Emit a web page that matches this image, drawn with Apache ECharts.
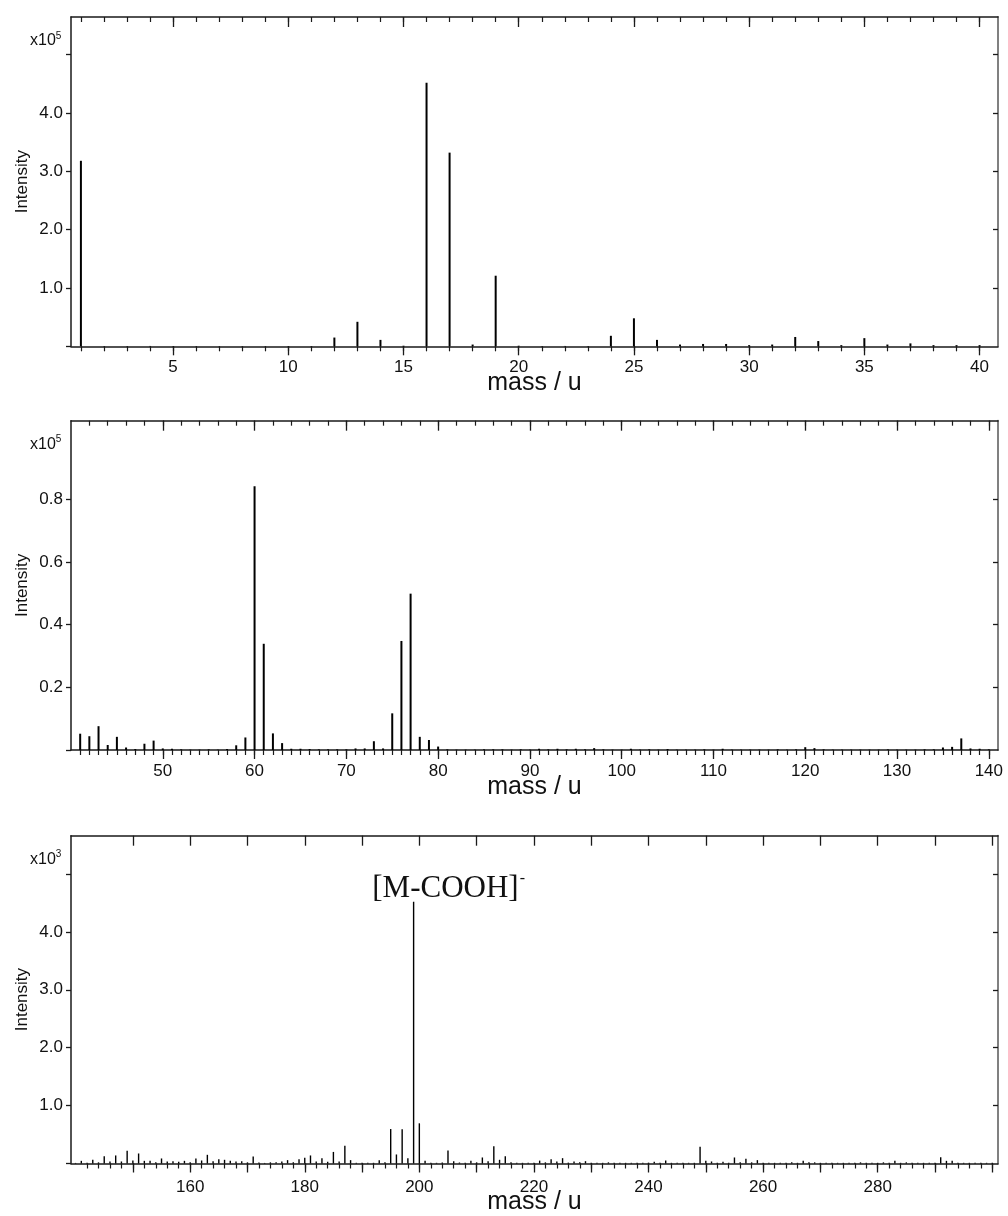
<!DOCTYPE html>
<html><head><meta charset="utf-8">
<script src="https://cdn.jsdelivr.net/npm/echarts@6/dist/echarts.min.js"></script>
<style>html,body{margin:0;padding:0;background:#fff}#c{width:1008px;height:1216px}</style>
</head><body><div id="c"></div>
<script>
// ---------- Panel 1: mass 1-40, intensity in units of 1e5 ----------
const masses1 = [1,2,3,4,5,6,7,8,9,10,11,12,13,14,15,16,17,18,19,20,21,22,23,24,25,26,27,28,29,30,31,32,33,34,35,36,37,38,39,40];
const intens1 = [3.18,0.004,0.004,0.006,0.004,0.004,0.003,0.003,0.003,0.004,0.005,0.15,0.42,0.11,0.01,4.52,3.32,0.03,1.21,0.01,0.005,0.006,0.005,0.18,0.48,0.11,0.03,0.04,0.04,0.02,0.03,0.16,0.09,0.02,0.14,0.03,0.05,0.02,0.02,0.02];

// ---------- Panel 2: mass 41-140, intensity in units of 1e5 ----------
const masses2 = [41,42,43,44,45,46,47,48,49,50,51,52,53,54,55,56,57,58,59,60,61,62,63,64,65,66,67,68,69,70,71,72,73,74,75,76,77,78,79,80,81,82,83,84,85,86,87,88,89,90,91,92,93,94,95,96,97,98,99,100,101,102,103,104,105,106,107,108,109,110,111,112,113,114,115,116,117,118,119,120,121,122,123,124,125,126,127,128,129,130,131,132,133,134,135,136,137,138,139,140];
const intens2 = [0.052,0.044,0.076,0.016,0.042,0.008,0.003,0.020,0.030,0.005,0.004,0.002,0.001,0.001,0.002,0.001,0.003,0.015,0.040,0.842,0.339,0.053,0.022,0.004,0.004,0.003,0.002,0.002,0.002,0.002,0.005,0.005,0.028,0.005,0.117,0.348,0.499,0.042,0.032,0.011,0.002,0.001,0.001,0.001,0.002,0.002,0.002,0.001,0.002,0.001,0.004,0.002,0.004,0.002,0.004,0.002,0.006,0.002,0.001,0.001,0.004,0.001,0.002,0.001,0.003,0.001,0.001,0.001,0.002,0.001,0.004,0.001,0.001,0.001,0.001,0.001,0.002,0.001,0.002,0.009,0.006,0.002,0.001,0.001,0.001,0.001,0.001,0.001,0.002,0.001,0.001,0.001,0.002,0.002,0.008,0.010,0.037,0.005,0.004,0.002];

// ---------- Panel 3: mass 140-300, intensity in units of 1e3 ----------
const masses3 = [140,141,142,143,144,145,146,147,148,149,150,151,152,153,154,155,156,157,158,159,160,161,162,163,164,165,166,167,168,169,170,171,172,173,174,175,176,177,178,179,180,181,182,183,184,185,186,187,188,189,190,191,192,193,194,195,196,197,198,199,200,201,202,203,204,205,206,207,208,209,210,211,212,213,214,215,216,217,218,219,220,221,222,223,224,225,226,227,228,229,230,231,232,233,234,235,236,237,238,239,240,241,242,243,244,245,246,247,248,249,250,251,252,253,254,255,256,257,258,259,260,261,262,263,264,265,266,267,268,269,270,271,272,273,274,275,276,277,278,279,280,281,282,283,284,285,286,287,288,289,290,291,292,293,294,295,296,297,298,299,300];
const intens3 = [0.010,0.046,0.015,0.064,0.020,0.127,0.035,0.139,0.035,0.220,0.050,0.173,0.046,0.046,0.020,0.087,0.035,0.040,0.030,0.046,0.020,0.087,0.052,0.150,0.040,0.075,0.064,0.046,0.035,0.040,0.020,0.120,0.017,0.010,0.020,0.020,0.035,0.058,0.020,0.075,0.098,0.139,0.035,0.092,0.030,0.200,0.035,0.306,0.058,0.012,0.012,0.012,0.012,0.058,0.020,0.595,0.156,0.590,0.092,4.520,0.694,0.046,0.012,0.012,0.017,0.225,0.040,0.017,0.012,0.046,0.020,0.104,0.040,0.300,0.064,0.127,0.020,0.012,0.012,0.012,0.012,0.050,0.020,0.075,0.035,0.092,0.015,0.035,0.020,0.040,0.012,0.012,0.012,0.020,0.012,0.012,0.012,0.012,0.012,0.012,0.015,0.030,0.012,0.052,0.012,0.012,0.012,0.012,0.012,0.289,0.046,0.035,0.012,0.030,0.012,0.104,0.020,0.081,0.020,0.058,0.012,0.012,0.012,0.012,0.012,0.020,0.012,0.046,0.020,0.020,0.012,0.012,0.012,0.012,0.012,0.012,0.012,0.020,0.012,0.012,0.012,0.020,0.012,0.046,0.012,0.020,0.012,0.012,0.012,0.012,0.012,0.110,0.046,0.046,0.012,0.012,0.012,0.012,0.012,0.012,0.012];

// ---------- Axis ticks / labels ----------
const xRange1 = [0.57, 40.8], xRange2 = [40, 141], xRange3 = [139.2, 301];
const yMax1 = 5.645, yMax2 = 1.051, yMax3 = 5.66;
const xLabels1 = [5,10,15,20,25,30,35,40];
const xLabels2 = [50,60,70,80,90,100,110,120,130,140];
const xLabels3 = [160,180,200,220,240,260,280];
const yTicks1 = [0,1,2,3,4,5], yLabels1 = [1,2,3,4];
const yTicks2 = [0,0.2,0.4,0.6,0.8], yLabels2 = [0.2,0.4,0.6,0.8];
const yTicks3 = [0,1,2,3,4,5], yLabels3 = [1,2,3,4];
const scaleText = ['5','5','3'];
const annotMass = 199, annotText = '[M-COOH]';

function range(a,b,s){const r=[];for(let v=a;v<=b+1e-9;v+=s)r.push(+v.toFixed(6));return r;}
const xMajor1 = range(5,40,5), xMinorBot1 = range(1,40,1), xMinorTop1 = range(1,40,1);
const xMajor2 = range(50,140,10), xMinorBot2 = range(41,140,1), xMinorTop2 = range(42,140,2);
const xMajor3 = range(150,300,10), xMinorBot3 = range(142,300,2), xMinorTop3 = [];

const FONT = 'Liberation Sans, Arial, sans-serif';
const DARK = '#1a1a1a', GREY = '#808080';

const panels = [
  {top:17, xr:xRange1, ymax:yMax1, xl:xLabels1, xM:xMajor1, xmb:xMinorBot1, xmt:xMinorTop1, yt:yTicks1, yl:yLabels1, m:masses1, v:intens1, bw:2, ng:37, lm:13},
  {top:420.7, xr:xRange2, ymax:yMax2, xl:xLabels2, xM:xMajor2, xmb:xMinorBot2, xmt:xMinorTop2, yt:yTicks2, yl:yLabels2, m:masses2, v:intens2, bw:2, ng:37, lm:13},
  {top:835.7, xr:xRange3, ymax:yMax3, xl:xLabels3, xM:xMajor3, xmb:xMinorBot3, xmt:xMinorTop3, yt:yTicks3, yl:yLabels3, m:masses3, v:intens3, bw:1.4, ng:39, lm:15}
];

const grid=[], xAxis=[], yAxis=[], series=[], graphic=[];
panels.forEach((p,i)=>{
  grid.push({left:71, right:10, top:p.top, height:329.3});
  const base = {type:'value', gridIndex:i, min:p.xr[0], max:p.xr[1], splitLine:{show:false}};
  xAxis.push(Object.assign({}, base, {position:'bottom',
    axisLine:{show:true, onZero:false, lineStyle:{color:DARK, width:1.5}},
    axisTick:{show:true, customValues:p.xM, length:9, inside:false, lineStyle:{color:DARK, width:1.3}},
    axisLabel:{show:true, customValues:p.xl, color:'#111', fontSize:17, fontFamily:FONT, margin:p.lm},
    name:'mass / u', nameLocation:'middle', nameGap:p.ng, nameMoveOverlap:false,
    nameTextStyle:{fontSize:25, fontFamily:FONT, color:'#111', verticalAlign:'middle'}}));
  xAxis.push(Object.assign({}, base, {position:'bottom',
    axisLine:{show:false, onZero:false},
    axisTick:{show:true, customValues:p.xmb, length:5, inside:false, lineStyle:{color:DARK, width:1.2}},
    axisLabel:{show:false}}));
  xAxis.push(Object.assign({}, base, {position:'top',
    axisLine:{show:true, onZero:false, lineStyle:{color:DARK, width:1.5}},
    axisTick:{show:true, customValues:p.xM, length:10, inside:true, lineStyle:{color:DARK, width:1.3}},
    axisLabel:{show:false}}));
  xAxis.push(Object.assign({}, base, {position:'top',
    axisLine:{show:false, onZero:false},
    axisTick:{show:p.xmt.length>0, customValues:p.xmt.length?p.xmt:[p.xr[0]-1], length:5, inside:true, lineStyle:{color:DARK, width:1.2}},
    axisLabel:{show:false}}));
  const ybase = {type:'value', gridIndex:i, min:0, max:p.ymax, splitLine:{show:false}};
  yAxis.push(Object.assign({}, ybase, {position:'left',
    axisLine:{show:true, onZero:false, lineStyle:{color:DARK, width:1.5}},
    axisTick:{show:true, customValues:p.yt, length:5, inside:false, lineStyle:{color:DARK, width:1.3}},
    axisLabel:{show:true, customValues:p.yl, formatter:(v)=>v.toFixed(1), color:'#111', fontSize:17, fontFamily:FONT, margin:8},
    name:'Intensity', nameLocation:'middle', nameGap:40, nameRotate:90, nameMoveOverlap:false,
    nameTextStyle:{fontSize:17, fontFamily:FONT, color:'#111'}}));
  yAxis.push(Object.assign({}, ybase, {position:'right',
    axisLine:{show:true, onZero:false, lineStyle:{color:GREY, width:2}},
    axisTick:{show:true, customValues:p.yt.filter(t=>t>0), length:5, inside:true, lineStyle:{color:DARK, width:1.3}},
    axisLabel:{show:false}}));
  const s = {type:'bar', xAxisIndex:4*i, yAxisIndex:2*i, barWidth:p.bw,
    itemStyle:{color:'#000'}, silent:true,
    data:p.m.map((mm,k)=>[mm, p.v[k]])};
  if(i===2){
    s.markPoint = {symbol:'circle', symbolSize:0,
      data:[{coord:[annotMass, intens3[masses3.indexOf(annotMass)]]}],
      label:{show:true, position:'top', distance:0, offset:[35,3],
        formatter:'{a|'+annotText+'}{s|-}',
        rich:{a:{fontFamily:'Liberation Serif, Times New Roman, serif', fontSize:31, color:'#111', lineHeight:34, verticalAlign:'bottom'},
              s:{fontFamily:'Liberation Serif, Times New Roman, serif', fontSize:16, color:'#111', lineHeight:34, verticalAlign:'top', padding:[0,0,0,1]}}}};
  }
  series.push(s);
  graphic.push({type:'text', left:30, top:p.top+14,
    style:{text:'{b|x10}{s|'+scaleText[i]+'}', rich:{b:{fontSize:16, fontFamily:FONT, fill:'#111', lineHeight:18, verticalAlign:'bottom'}, s:{fontSize:10, fontFamily:FONT, fill:'#111', lineHeight:18, verticalAlign:'top'}}}});
});

const chart = echarts.init(document.getElementById('c'), null, {renderer:'canvas'});
chart.setOption({animation:false, backgroundColor:'#fff', grid, xAxis, yAxis, series, graphic});
</script></body></html>
